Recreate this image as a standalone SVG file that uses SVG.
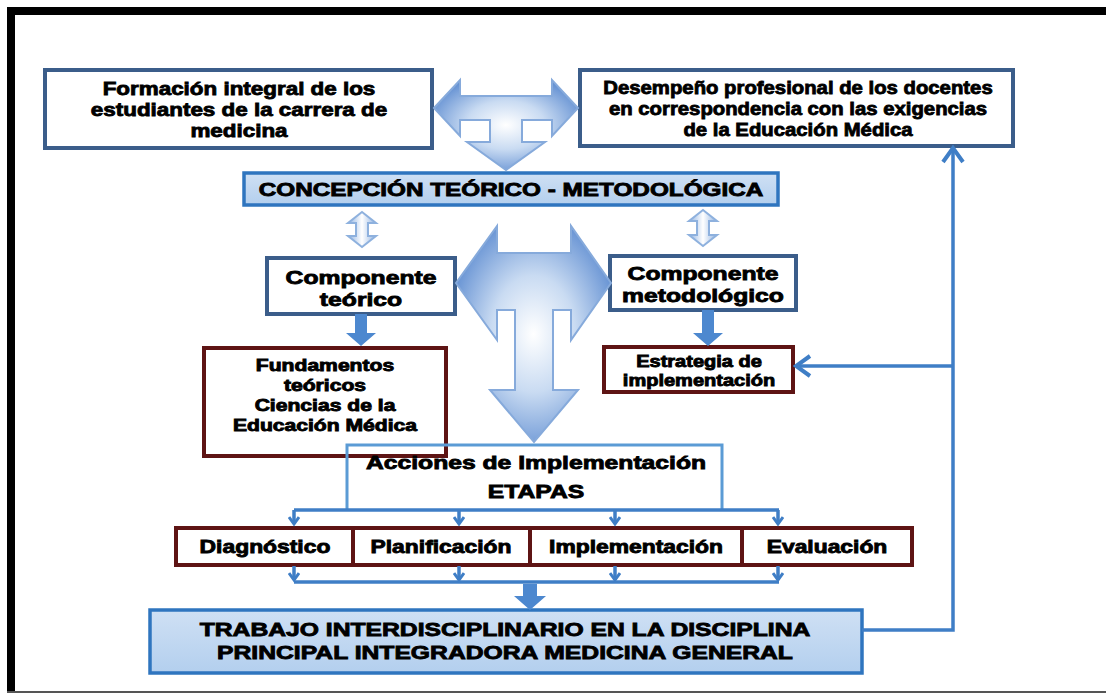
<svg xmlns="http://www.w3.org/2000/svg" width="1106" height="695" viewBox="0 0 1106 695">
<style>
.t{font-family:"Liberation Sans",Arial,sans-serif;font-weight:bold;fill:#000;stroke:#000;stroke-width:0.85;text-anchor:middle}
.f19{font-size:19px}
.f18{font-size:18px}
.f16{font-size:16px}
.bnav{fill:#fff;stroke:#3b5d8a;stroke-width:4}
.bred{fill:#fff;stroke:#5e1414;stroke-width:4}
.blue{fill:url(#lb);stroke:#2f75bf;stroke-width:3.5}
.conn{fill:none;stroke:#3f7ec6;stroke-width:3.5}
.solid{fill:#4d88cf}
.bigarrow{fill:url(#rg);stroke:#86aadb;stroke-width:2}
</style>
<defs>
<linearGradient id="lb" x1="0" y1="0" x2="0" y2="1">
<stop offset="0" stop-color="#cfe0f4"/>
<stop offset="1" stop-color="#b3cfee"/>
</linearGradient>
<radialGradient id="rg" cx="0.5" cy="0.5" r="0.6">
<stop offset="0" stop-color="#ffffff"/>
<stop offset="0.45" stop-color="#c9dbf2"/>
<stop offset="1" stop-color="#5888cf"/>
</radialGradient>
<linearGradient id="sg" x1="0" y1="0" x2="1" y2="0">
<stop offset="0" stop-color="#8fb2e2"/>
<stop offset="0.5" stop-color="#ffffff"/>
<stop offset="1" stop-color="#8fb2e2"/>
</linearGradient>
<marker id="chev" viewBox="0 0 12 12" refX="9" refY="6" markerWidth="12" markerHeight="12" markerUnits="userSpaceOnUse" orient="auto">
<path d="M2,1 L9,6 L2,11" fill="none" stroke="#3f7ec6" stroke-width="3"/>
</marker>
<marker id="open" viewBox="0 0 24 24" refX="21" refY="12" markerWidth="24" markerHeight="24" markerUnits="userSpaceOnUse" orient="auto">
<path d="M7,2 L21,12 L7,22" fill="none" stroke="#3f7ec6" stroke-width="4"/>
</marker>
</defs>
<rect x="0" y="0" width="1106" height="695" fill="#fff"/>
<g id="frame">
<rect x="7" y="7" width="1099" height="8" fill="#000"/>
<rect x="7" y="7" width="8" height="686" fill="#000"/>
<rect x="7" y="691" width="1099" height="2" fill="#555"/>
</g>

<g id="formacion">
<rect class="bnav" x="45" y="70" width="387" height="78"/>
<text class="t f19" transform="translate(239,95) scale(1.18,1)">Formación integral de los</text>
<text class="t f19" transform="translate(239,116) scale(1.18,1)">estudiantes de la carrera de</text>
<text class="t f19" transform="translate(239,137) scale(1.18,1)">medicina</text>
</g>

<g id="desempeno">
<rect class="bnav" x="580" y="70" width="433" height="76"/>
<text class="t f19" transform="translate(798,94) scale(1.07,1)">Desempeño profesional de los docentes</text>
<text class="t f19" transform="translate(798,115) scale(1.07,1)">en correspondencia con las exigencias</text>
<text class="t f19" transform="translate(798,136) scale(1.07,1)">de la Educación Médica</text>
</g>

<g id="concepcion">
<rect class="blue" x="244" y="173" width="534" height="32"/>
<text class="t f19" transform="translate(511,196) scale(1.28,1)">CONCEPCIÓN TEÓRICO - METODOLÓGICA</text>
</g>

<g id="comp-teorico">
<rect class="bnav" x="267" y="258" width="188" height="56"/>
<text class="t f19" transform="translate(361,284) scale(1.3,1)">Componente</text>
<text class="t f19" transform="translate(361,306) scale(1.3,1)">teórico</text>
</g>

<g id="comp-metodologico">
<rect class="bnav" x="610" y="256" width="186" height="54"/>
<text class="t f19" transform="translate(703,280) scale(1.3,1)">Componente</text>
<text class="t f19" transform="translate(703,302) scale(1.3,1)">metodológico</text>
</g>

<g id="fundamentos">
<rect class="bred" x="204" y="348" width="242" height="108"/>
<text class="t f16" transform="translate(325,371) scale(1.32,1)">Fundamentos</text>
<text class="t f16" transform="translate(325,391) scale(1.32,1)">teóricos</text>
<text class="t f16" transform="translate(325,411) scale(1.32,1)">Ciencias de la</text>
<text class="t f16" transform="translate(325,431) scale(1.32,1)">Educación Médica</text>
</g>

<g id="estrategia">
<rect class="bred" x="604" y="347" width="189" height="45"/>
<text class="t f16" transform="translate(699,367) scale(1.25,1)">Estrategia de</text>
<text class="t f16" transform="translate(699,386) scale(1.25,1)">implementación</text>
</g>

<g id="acciones">
<path d="M347,510 V445 H722 V510" fill="none" stroke="#5b9bd5" stroke-width="3"/>
<text class="t f19" transform="translate(536,469) scale(1.3,1)">Acciones de Implementación</text>
<text class="t f19" transform="translate(536,498) scale(1.3,1)">ETAPAS</text>
</g>

<g id="diagnostico">
<rect class="bred" x="176" y="528" width="177" height="37"/>
<text class="t f18" transform="translate(265,553) scale(1.27,1)">Diagnóstico</text>
</g>
<g id="planificacion">
<rect class="bred" x="353" y="528" width="177" height="37"/>
<text class="t f18" transform="translate(441,553) scale(1.27,1)">Planificación</text>
</g>
<g id="implementacion">
<rect class="bred" x="530" y="528" width="212" height="37"/>
<text class="t f18" transform="translate(636,553) scale(1.27,1)">Implementación</text>
</g>
<g id="evaluacion">
<rect class="bred" x="742" y="528" width="170" height="37"/>
<text class="t f18" transform="translate(827,553) scale(1.27,1)">Evaluación</text>
</g>

<g id="trabajo">
<rect class="blue" x="150" y="610" width="712" height="63"/>
<text class="t f19" transform="translate(505,636) scale(1.3,1)">TRABAJO INTERDISCIPLINARIO EN LA DISCIPLINA</text>
<text class="t f19" transform="translate(505,659) scale(1.3,1)">PRINCIPAL INTEGRADORA MEDICINA GENERAL</text>
</g>

<g id="connectors">
<polygon class="bigarrow" points="434,108 460,80 460,96 552,96 552,80 578,108 552,136 552,120 522,120 522,142 545,142 506,170 467,142 490,142 490,120 460,120 460,136"/>
<polygon class="bigarrow" points="456,283 497,226 497,253 571,253 571,226 611,283 571,340 571,310 553,310 553,390 578,390 534,442 490,390 515,390 515,310 497,310 497,340"/>
<polygon fill="url(#sg)" stroke="#8eb1de" stroke-width="2" points="362,212 376,223 368,223 368,236 376,236 362,247 348,236 356,236 356,223 348,223"/>
<polygon fill="url(#sg)" stroke="#8eb1de" stroke-width="2" points="703,210 717,221 709,221 709,235 717,235 703,246 689,235 697,235 697,221 689,221"/>
<polygon class="solid" points="355,314 367,314 367,333 376,333 361,346 346,333 355,333"/>
<polygon class="solid" points="702,310 714,310 714,333 723,333 708,346 693,333 702,333"/>
<polygon class="solid" points="523,584 537,584 537,596 546,596 530,610 514,596 523,596"/>
<path class="conn" d="M294,510 H779"/>
<path class="conn" d="M294,510 V524" marker-end="url(#chev)"/>
<path class="conn" d="M459,510 V524" marker-end="url(#chev)"/>
<path class="conn" d="M615,510 V524" marker-end="url(#chev)"/>
<path class="conn" d="M778,510 V524" marker-end="url(#chev)"/>
<path class="conn" d="M294,566 V580" marker-end="url(#chev)"/>
<path class="conn" d="M459,566 V580" marker-end="url(#chev)"/>
<path class="conn" d="M615,566 V580" marker-end="url(#chev)"/>
<path class="conn" d="M778,566 V580" marker-end="url(#chev)"/>
<path class="conn" d="M294,582 H779"/>
<path class="conn" d="M862,630 H953 V148" marker-end="url(#open)"/>
<path class="conn" d="M953,366 H796" marker-end="url(#open)"/>
</g>
</svg>
